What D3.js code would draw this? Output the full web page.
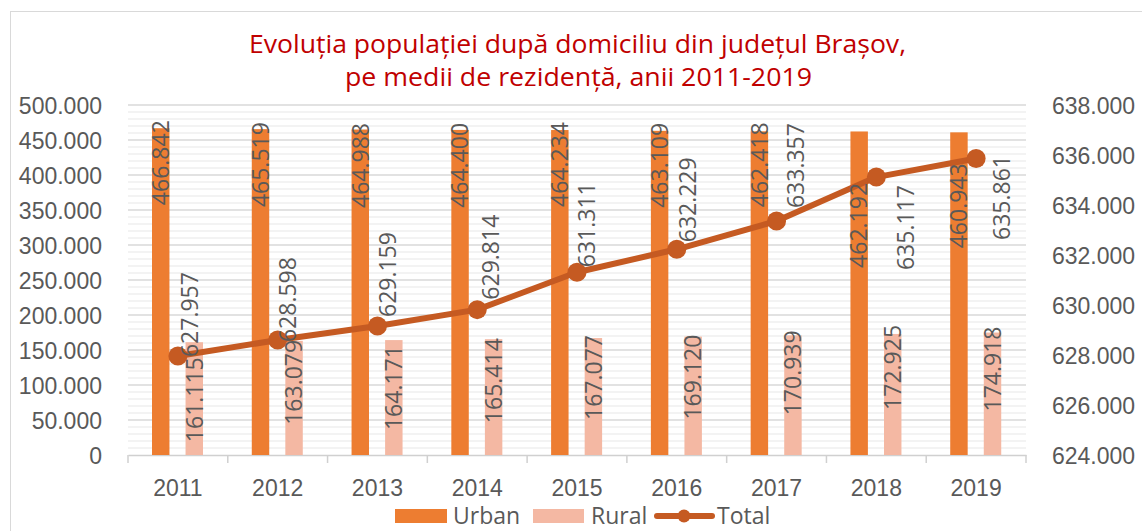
<!DOCTYPE html>
<html>
<head>
<meta charset="utf-8">
<script src="https://cdn.jsdelivr.net/npm/d3@7/dist/d3.min.js"></script>
<style>
  html, body { margin: 0; padding: 0; background: #fff; }
  svg { display: block; font-family: "Open Sans", "Noto Sans", sans-serif; }
</style>
</head>
<body>
<svg id="chart" width="1142" height="531"></svg>
<script>
// ---- data ----
const years = ["2011","2012","2013","2014","2015","2016","2017","2018","2019"];
const urban = [466842, 465519, 464988, 464400, 464234, 463109, 462418, 462192, 460943];
const rural = [161115, 163079, 164171, 165414, 167077, 169120, 170939, 172925, 174918];
const total = [627957, 628598, 629159, 629814, 631311, 632229, 633357, 635117, 635861];
const leftTicks = [0, 50000, 100000, 150000, 200000, 250000, 300000, 350000, 400000, 450000, 500000];
const rightTicks = [624000, 626000, 628000, 630000, 632000, 634000, 636000, 638000];
const titleLines = ["Evoluția populației după domiciliu din județul Brașov,", "pe medii de rezidență, anii 2011-2019"];

// ---- label layout nudges (pixels, as placed in the original) ----
const urbanLabelNudge = [-8, -7, -6.5, -7, -8, -8, -9, 51.5, 31];
const ruralLabelNudge = [15, -1, 5, -1, -3, -2, -5, -9, -6];
const totalLabelNudge = [[12, 1], [10, 2], [10, -9], [13, -10], [10, -5], [11, -7], [19, -13], [29, 93], [26, 81.5]];

// ---- styles ----
const C_URBAN = "#ED7D31", C_RURAL = "#F4B8A3", C_TOTAL = "#C55A22";
const C_TEXT = "#595959";
const fmt = v => d3.format(",")(v).replace(/,/g, ".");

const svg = d3.select("#chart");
const pLeft = 128, pRight = 1026, pTop = 105, pBottom = 455;

// chart border
svg.append("rect").attr("x", 10.5).attr("y", 11.5).attr("width", 1200).attr("height", 600)
  .attr("fill", "none").attr("stroke", "#d9d9d9").attr("stroke-width", 1);

// scales
const x0 = d3.scaleBand().domain(years).range([pLeft, pRight]).paddingInner(0).paddingOuter(0);
const x1 = d3.scaleBand().domain(["Urban", "Rural"]).range([24, 75]).paddingInner(0.48).paddingOuter(0);
const yL = d3.scaleLinear().domain([0, 500000]).range([pBottom, pTop]);
const yR = d3.scaleLinear().domain([624000, 638000]).range([pBottom, pTop]);

// gridlines: minor then major
const minor = d3.range(0, 500001, 10000).filter(v => v % 50000 !== 0);
svg.append("g").selectAll("line").data(minor).join("line")
  .attr("x1", pLeft).attr("x2", pRight).attr("y1", d => yL(d)).attr("y2", d => yL(d))
  .attr("stroke", "#efefef").attr("stroke-width", 1.5);
svg.append("g").selectAll("line").data(leftTicks.filter(v => v > 0)).join("line")
  .attr("x1", pLeft).attr("x2", pRight).attr("y1", d => yL(d)).attr("y2", d => yL(d))
  .attr("stroke", "#d9d9d9").attr("stroke-width", 1.5);

// left axis
const axL = svg.append("g").attr("transform", `translate(${pLeft - 26},0)`)
  .call(d3.axisLeft(yL).tickValues(leftTicks).tickFormat(fmt).tickSize(0).tickPadding(0));
axL.select(".domain").remove();
axL.selectAll("text").attr("fill", C_TEXT).style("font-size", "23px").attr("dy", "0.36em");

// right axis
const axR = svg.append("g").attr("transform", `translate(1052,0)`)
  .call(d3.axisRight(yR).tickValues(rightTicks).tickFormat(fmt).tickSize(0).tickPadding(0));
axR.select(".domain").remove();
axR.selectAll("text").attr("fill", C_TEXT).style("font-size", "23px").attr("dy", "0.36em");

// x axis
const axX = svg.append("g").attr("transform", `translate(0,${pBottom})`)
  .call(d3.axisBottom(x0).tickSize(0).tickPadding(0));
axX.select(".domain").attr("stroke", "#d0d0d0").attr("stroke-width", 1.5);
axX.selectAll("text").attr("fill", C_TEXT).style("font-size", "23px").attr("y", 41).attr("dy", 0);
// boundary tick marks
const bounds = years.map(y => x0(y)).concat([pRight]);
svg.append("g").selectAll("line").data(bounds).join("line")
  .attr("x1", d => d).attr("x2", d => d).attr("y1", pBottom).attr("y2", pBottom + 8)
  .attr("stroke", "#d0d0d0").attr("stroke-width", 1.5);

// bars
const gBars = svg.append("g");
gBars.selectAll("rect.u").data(years).join("rect").attr("class", "u")
  .attr("x", (d) => x0(d) + x1("Urban")).attr("width", x1.bandwidth())
  .attr("y", (d, i) => yL(urban[i])).attr("height", (d, i) => yL(0) - yL(urban[i]))
  .attr("fill", C_URBAN);
gBars.selectAll("rect.r").data(years).join("rect").attr("class", "r")
  .attr("x", (d) => x0(d) + x1("Rural")).attr("width", x1.bandwidth())
  .attr("y", (d, i) => yL(rural[i])).attr("height", (d, i) => yL(0) - yL(rural[i]))
  .attr("fill", C_RURAL);

// line
const cx = d => x0(d) + x0.bandwidth() / 2;
const line = d3.line().x((d, i) => cx(years[i])).y(d => yR(d));
svg.append("path").datum(total).attr("d", line).attr("fill", "none")
  .attr("stroke", C_TOTAL).attr("stroke-width", 6).attr("stroke-linejoin", "round");
svg.append("g").selectAll("circle").data(total).join("circle")
  .attr("cx", (d, i) => cx(years[i])).attr("cy", d => yR(d)).attr("r", 9.5)
  .attr("fill", C_TOTAL);

// labels (rotated)
const lbl = svg.append("g").style("font-size", "23px").attr("fill", C_TEXT);
urban.forEach((v, i) => {
  const xc = x0(years[i]) + x1("Urban") + x1.bandwidth() / 2;
  const ye = yL(v) + urbanLabelNudge[i];
  lbl.append("text").attr("transform", `translate(${xc},${ye}) rotate(-90)`)
    .attr("text-anchor", "end").attr("dy", "0.36em").text(fmt(v));
});
rural.forEach((v, i) => {
  const xc = x0(years[i]) + x1("Rural") + x1.bandwidth() / 2;
  const ye = yL(v) + ruralLabelNudge[i];
  lbl.append("text").attr("transform", `translate(${xc},${ye}) rotate(-90)`)
    .attr("text-anchor", "end").attr("dy", "0.36em").text(fmt(v));
});
total.forEach((v, i) => {
  const xc = cx(years[i]) + totalLabelNudge[i][0];
  const ys = yR(v) + totalLabelNudge[i][1];
  lbl.append("text").attr("transform", `translate(${xc},${ys}) rotate(-90)`)
    .attr("text-anchor", "start").attr("dy", "0.36em").text(fmt(v));
});

// title
const titleSpec = [{ x: 249, y: 53, w: 657 }, { x: 345, y: 86, w: 467 }];
titleLines.forEach((t, i) => {
  svg.append("text").attr("x", titleSpec[i].x).attr("y", titleSpec[i].y)
    .attr("text-anchor", "start").attr("fill", "#C00000").style("font-size", "25px")
    .attr("textLength", titleSpec[i].w).attr("lengthAdjust", "spacingAndGlyphs").text(t);
});

// legend
const lg = svg.append("g").style("font-size", "23px").attr("fill", C_TEXT);
lg.append("rect").attr("x", 395).attr("y", 509).attr("width", 52).attr("height", 14).attr("fill", C_URBAN);
lg.append("text").attr("x", 453).attr("y", 524).text("Urban");
lg.append("rect").attr("x", 533).attr("y", 509).attr("width", 51).attr("height", 14).attr("fill", C_RURAL);
lg.append("text").attr("x", 591).attr("y", 524).text("Rural");
lg.append("line").attr("x1", 657).attr("x2", 712).attr("y1", 516).attr("y2", 516)
  .attr("stroke", C_TOTAL).attr("stroke-width", 6).attr("stroke-linecap", "round");
lg.append("circle").attr("cx", 684).attr("cy", 516).attr("r", 6.5).attr("fill", C_TOTAL);
lg.append("text").attr("x", 717).attr("y", 524).text("Total");
</script>
</body>
</html>
